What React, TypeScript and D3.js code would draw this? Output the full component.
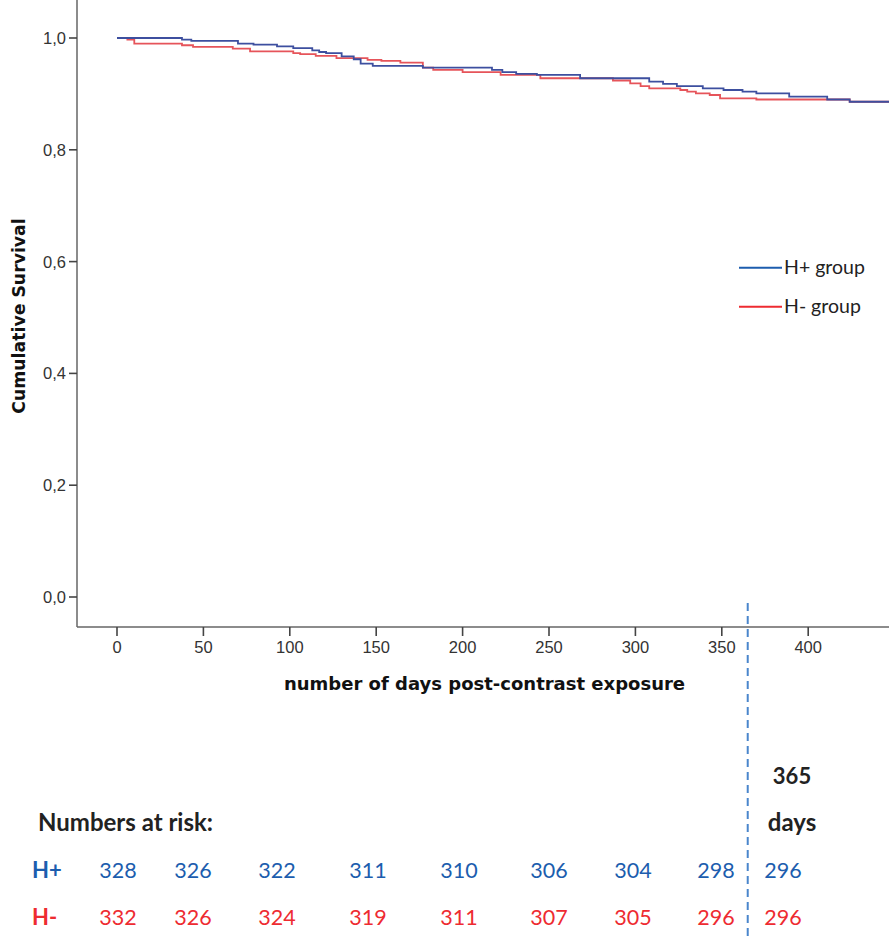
import React from "react";
import * as d3 from "d3";

// Kaplan–Meier step points: event day and survival after that day
const hPlusDays = [0, 37.6, 43, 70, 79, 92.6, 102, 113, 117, 121, 130, 137, 141, 148, 177, 217, 223, 231, 243, 268, 308, 316, 324, 339, 351, 362, 370, 389, 411, 424, 452];
const hPlusSurv = [1.0, 0.997, 0.995, 0.99, 0.988, 0.985, 0.982, 0.978, 0.975, 0.973, 0.967, 0.962, 0.954, 0.95, 0.947, 0.943, 0.939, 0.936, 0.934, 0.928, 0.922, 0.918, 0.914, 0.91, 0.907, 0.904, 0.901, 0.895, 0.89, 0.886, 0.886];
const hMinusDays = [0, 6, 10, 37.6, 44, 67, 77, 102, 106, 115, 127, 145, 153, 164, 177, 183, 200, 222, 245, 287, 297, 303, 308, 326, 330, 335, 343, 349, 370, 424, 452];
const hMinusSurv = [1.0, 0.997, 0.99, 0.987, 0.984, 0.981, 0.976, 0.973, 0.971, 0.968, 0.964, 0.961, 0.959, 0.956, 0.947, 0.943, 0.939, 0.934, 0.928, 0.924, 0.919, 0.914, 0.91, 0.907, 0.904, 0.901, 0.898, 0.892, 0.89, 0.886, 0.886];

const yTicks = [0, 0.2, 0.4, 0.6, 0.8, 1.0];
const xTicks = [0, 50, 100, 150, 200, 250, 300, 350, 400];
const cutoffDay = 365;

// Numbers at risk table
const riskDays = [0, 50, 100, 150, 200, 250, 300, 350, 365];
const riskHPlus = [328, 326, 322, 311, 310, 306, 304, 298, 296];
const riskHMinus = [332, 326, 324, 319, 311, 307, 305, 296, 296];
const riskColX = [118, 193, 277, 368, 459, 549, 633, 716, 783];

const W = 889;
const H = 937;

const BLUE_LINE = "#3d4f9f";
const RED_LINE = "#e6545a";
const BLUE_TEXT = "#1c5dae";
const RED_TEXT = "#ee2b31";

export default function App() {
  const x = d3.scaleLinear().domain([0, 450]).range([117, 117 + 450 * 1.728]);
  const y = d3.scaleLinear().domain([0, 1]).range([597, 38]);

  const line = d3
    .line<[number, number]>()
    .x((d) => x(d[0]))
    .y((d) => y(d[1]))
    .curve(d3.curveStepAfter);

  const plus: [number, number][] = hPlusDays.map((d, i) => [d, hPlusSurv[i]]);
  const minus: [number, number][] = hMinusDays.map((d, i) => [d, hMinusSurv[i]]);

  const fmt = (v: number) => d3.format(".1f")(v).replace(".", ",");
  const axisY = 627;
  const axisX = 77;
  const tableFont = "Lato, 'Noto Sans', sans-serif";
  const tickFont = "'Liberation Sans', Arial, sans-serif";

  return (
    <svg
      width={W}
      height={H}
      viewBox={`0 0 ${W} ${H}`}
      style={{ position: "absolute", left: 0, top: 0, background: "#fff" }}
    >
      <defs>
        <clipPath id="plotClip">
          <rect x={axisX} y={0} width={W - axisX} height={axisY} />
        </clipPath>
      </defs>

      {/* axes */}
      <line x1={axisX} x2={axisX} y1={0} y2={axisY} stroke="#666" strokeWidth={1.5} />
      <line x1={axisX} x2={W} y1={axisY} y2={axisY} stroke="#666" strokeWidth={1.5} />

      {yTicks.map((t) => (
        <g key={"y" + t}>
          <line x1={axisX - 8} x2={axisX} y1={y(t)} y2={y(t)} stroke="#444" strokeWidth={1.6} />
          <text x={66} y={y(t) + 6} textAnchor="end" fontFamily={tickFont} fontSize={16.5} fill="#333">
            {fmt(t)}
          </text>
        </g>
      ))}

      {xTicks.map((t) => (
        <g key={"x" + t}>
          <line x1={x(t)} x2={x(t)} y1={axisY} y2={axisY + 9} stroke="#444" strokeWidth={1.6} />
          <text x={x(t)} y={653} textAnchor="middle" fontFamily={tickFont} fontSize={16.5} fill="#333">
            {t}
          </text>
        </g>
      ))}

      {/* axis titles */}
      <text
        x={484.5}
        y={690}
        textAnchor="middle"
        fontFamily="'DejaVu Sans', sans-serif"
        fontWeight="bold"
        fontSize={18}
        fill="#111"
      >
        number of days post-contrast exposure
      </text>
      <text
        transform={`translate(25,316) rotate(-90)`}
        textAnchor="middle"
        fontFamily="'DejaVu Sans', sans-serif"
        fontWeight="bold"
        fontSize={17.3}
        fill="#111"
      >
        Cumulative Survival
      </text>

      {/* survival curves */}
      <g clipPath="url(#plotClip)" fill="none">
        <path d={line(minus) || ""} stroke={RED_LINE} strokeWidth={1.8} />
        <path d={line(plus) || ""} stroke={BLUE_LINE} strokeWidth={1.8} />
      </g>

      {/* legend */}
      <line x1={739} x2={782} y1={267.7} y2={267.7} stroke={BLUE_TEXT} strokeWidth={2} />
      <text x={784} y={274} fontFamily={tableFont} fontSize={19.5} fill="#222">
        H+ group
      </text>
      <line x1={739} x2={782} y1={306.7} y2={306.7} stroke={RED_TEXT} strokeWidth={2} />
      <text x={784} y={312.7} fontFamily={tableFont} fontSize={19.5} fill="#222">
        H- group
      </text>

      {/* one-year cut-off */}
      <line
        x1={x(cutoffDay)}
        x2={x(cutoffDay)}
        y1={603}
        y2={H}
        stroke="#4a86cc"
        strokeWidth={2}
        strokeDasharray="8 5"
      />

      {/* numbers at risk */}
      <text x={792} y={784} textAnchor="middle" fontFamily={tableFont} fontWeight="bold" fontSize={22} fill="#222">
        {cutoffDay}
      </text>
      <text x={792} y={831} textAnchor="middle" fontFamily={tableFont} fontWeight="bold" fontSize={24} fill="#222">
        days
      </text>
      <text x={38} y={831} fontFamily={tableFont} fontWeight="bold" fontSize={24} fill="#222">
        Numbers at risk:
      </text>
      <text x={32} y={878} fontFamily={tableFont} fontWeight="bold" fontSize={22} fill={BLUE_TEXT}>
        H+
      </text>
      <text x={32} y={925} fontFamily={tableFont} fontWeight="bold" fontSize={22} fill={RED_TEXT}>
        H-
      </text>
      {riskDays.map((d, i) => (
        <g key={"r" + d}>
          <text x={riskColX[i]} y={878} textAnchor="middle" fontFamily={tableFont} fontSize={21.5} fill={BLUE_TEXT}>
            {riskHPlus[i]}
          </text>
          <text x={riskColX[i]} y={925} textAnchor="middle" fontFamily={tableFont} fontSize={21.5} fill={RED_TEXT}>
            {riskHMinus[i]}
          </text>
        </g>
      ))}
    </svg>
  );
}
